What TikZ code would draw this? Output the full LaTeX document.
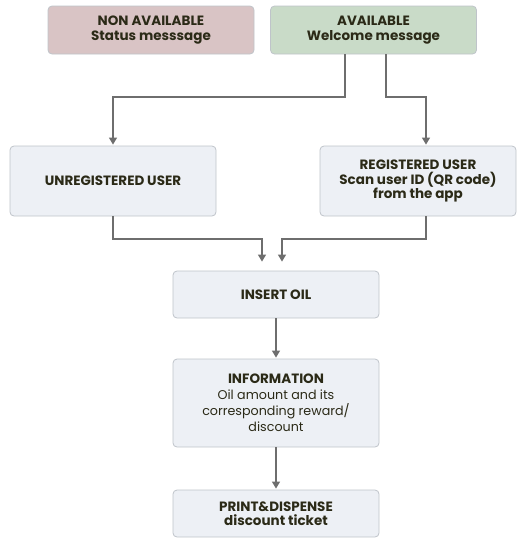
\documentclass[tikz,border=0pt]{standalone}
\usepackage{fontspec}
\setmainfont{Poppins}
\usetikzlibrary{arrows.meta}

\definecolor{pinkbox}{HTML}{D9C4C5}
\definecolor{greenbox}{HTML}{C9DBC8}
\definecolor{greybox}{HTML}{EDF0F5}
\definecolor{boxline}{HTML}{BFC4CA}
\definecolor{txt}{HTML}{2B2A17}
\definecolor{arrline}{HTML}{6E6E6E}

\begin{document}
\begin{tikzpicture}[x=1pt,y=-1pt]

\def\boxw{206pt}
\def\gap{9pt}

\tikzset{step box/.style = {draw=boxline, line width=0.8pt, rounded corners=4pt, fill=greybox,
           minimum width=\boxw, text=txt, align=center, inner sep=0pt,
           font=\fontsize{13.5}{14.5}\selectfont\bfseries},
         info box/.style = {step box, font=\fontsize{12.7}{16}\selectfont},
         arr/.style = {draw=arrline, line width=1.2pt, -{Triangle[width=8pt,length=7pt]}, shorten >=1pt}}

\useasboundingbox (0,0) rectangle (517,539);

\node[step box, fill=pinkbox, minimum height=48pt] (NA) at (151,30) {NON AVAILABLE\\Status messsage};
\node[step box, fill=greenbox, minimum height=48pt] (AV) at (373.5,30) {AVAILABLE\\Welcome message};
\node[step box, minimum height=70pt] (UN) at (113,181) {UNREGISTERED USER};
\node[step box, minimum width=196pt, minimum height=70pt] (RE) at (418,181) {REGISTERED USER\\Scan user ID (QR code)\\from the app};
\node[step box, minimum height=47pt] (OIL) at (276,294.5) {INSERT OIL};
\node[info box, minimum height=88pt] (INF) at (276,403)
  {{\fontsize{13.5}{14.5}\selectfont\bfseries INFORMATION}\\Oil amount and its\\corresponding reward/\\discount};
\node[step box, minimum height=47pt] (PR) at (276,513.5) {PRINT\&DISPENSE\\discount ticket};

% split after the welcome message
\draw[arr] ([xshift=-28.5pt]AV.south) |- (113,97) -- (UN.north);
\draw[arr] ([xshift=12.5pt]AV.south) |- (426,97) -- ([xshift=8pt]RE.north);

% both users go to the oil
\draw[arr, shorten >=\gap] (UN.south) |- (262,239) -- ([xshift=-14pt]OIL.north);
\draw[arr, shorten >=\gap] ([xshift=8pt]RE.south) |- (282,239) -- ([xshift=6pt]OIL.north);

\draw[arr] (OIL) -- (INF);
\draw[arr] (INF) -- (PR);

\end{tikzpicture}
\end{document}
